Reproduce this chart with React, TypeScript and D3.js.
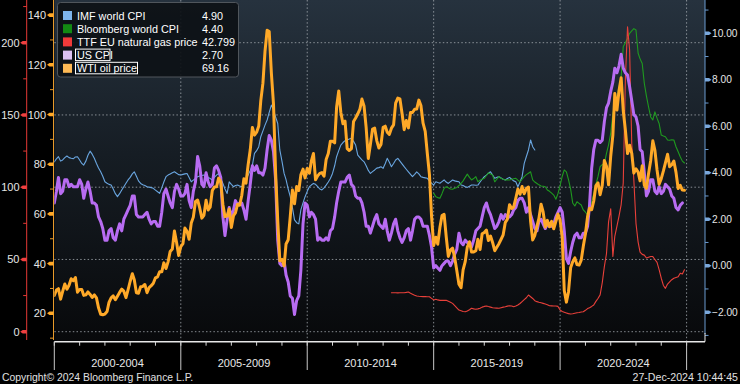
import React from "react";
import * as d3 from "d3";

const W = 740;
const H = 384;

// monthly series; the start month is given next to each array
const wtiStart = "2000-01";
const wtiPrice = [
  27.2, 29.4, 29.9, 25.7, 28.8, 31.8, 29.7, 31.3, 33.9, 33.1, 34.4, 28.5,
  29.6, 29.6, 27.2, 27.4, 28.6, 27.6, 26.4, 27.4, 26.2, 22.2, 19.6, 19.4,
  19.7, 20.7, 24.4, 26.2, 27.0, 25.5, 26.9, 28.4, 29.7, 28.9, 26.3, 29.4,
  32.9, 35.9, 33.5, 28.3, 28.1, 30.7, 30.8, 31.6, 28.3, 30.3, 31.1, 32.1,
  34.3, 34.7, 36.7, 36.7, 40.3, 38.0, 40.7, 44.9, 45.9, 53.1, 48.5, 43.3,
  46.8, 48.0, 54.3, 53.0, 49.8, 56.3, 58.7, 65.0, 65.6, 62.4, 58.3, 59.4,
  65.5, 61.6, 62.7, 69.4, 70.8, 70.9, 74.4, 73.0, 63.8, 58.9, 59.1, 62.0,
  54.5, 59.3, 60.4, 63.9, 63.5, 67.5, 74.1, 72.4, 79.9, 85.8, 94.8, 91.7,
  92.9, 95.4, 105.5, 112.6, 125.4, 133.9, 133.4, 116.7, 104.1, 76.6, 57.3, 41.1,
  41.7, 39.1, 47.9, 49.6, 59.0, 69.6, 64.1, 71.0, 69.4, 75.7, 78.0, 74.5,
  78.3, 76.4, 81.2, 84.3, 73.7, 75.3, 76.3, 76.6, 75.2, 81.9, 84.3, 89.2,
  89.2, 88.6, 102.9, 109.5, 100.9, 96.3, 97.3, 86.3, 85.5, 86.3, 97.2, 98.6,
  100.3, 102.2, 106.2, 103.3, 94.7, 82.3, 87.9, 94.1, 94.5, 89.5, 86.5, 87.9,
  94.8, 95.3, 92.9, 92.0, 94.5, 95.8, 104.6, 106.6, 106.3, 100.5, 93.9, 97.6,
  94.6, 100.8, 100.8, 102.1, 102.2, 105.8, 103.6, 96.5, 93.2, 84.4, 75.8, 59.3,
  47.2, 50.6, 47.8, 54.5, 59.3, 59.8, 50.9, 42.9, 45.5, 46.2, 42.4, 37.2,
  31.7, 30.3, 37.5, 40.8, 46.7, 48.8, 44.7, 44.7, 45.2, 49.8, 45.7, 52.0,
  52.5, 53.5, 49.3, 51.1, 48.5, 45.2, 46.6, 48.0, 49.8, 51.6, 56.6, 57.9,
  63.7, 62.2, 62.7, 66.3, 70.0, 67.9, 71.0, 68.1, 70.2, 70.8, 57.0, 49.5,
  51.4, 55.0, 58.2, 63.9, 60.8, 54.7, 57.4, 54.8, 57.0, 54.0, 57.0, 59.9,
  57.5, 50.5, 29.2, 24.5, 28.6, 38.3, 40.7, 42.3, 39.6, 39.4, 41.4, 47.0,
  52.0, 59.0, 62.3, 61.7, 65.2, 71.4, 72.5, 67.7, 71.6, 81.5, 79.2, 71.7,
  83.2, 91.6, 108.5, 101.8, 109.6, 114.8, 101.6, 93.7, 84.3, 87.6, 84.4, 76.4,
  78.1, 76.8, 73.3, 79.4, 71.6, 70.3, 76.1, 81.4, 89.4, 85.6, 77.7, 71.9,
  74.2, 77.3, 80.5, 84.0, 79.0, 79.8, 81.3, 76.7, 70.2, 71.5, 69.6, 69.5,
];

const usCpiStart = "2000-01";
const usCpi = [
  2.7, 3.2, 3.8, 3.1, 3.2, 3.7, 3.7, 3.4, 3.5, 3.4, 3.4, 3.4,
  3.7, 3.5, 2.9, 3.3, 3.6, 3.2, 2.7, 2.7, 2.6, 2.1, 1.9, 1.6,
  1.1, 1.1, 1.5, 1.6, 1.2, 1.1, 1.5, 1.8, 1.5, 2.0, 2.2, 2.4,
  2.6, 3.0, 3.0, 2.2, 2.1, 2.1, 2.1, 2.2, 2.3, 2.0, 1.8, 1.9,
  1.9, 1.7, 1.7, 2.3, 3.1, 3.3, 3.0, 2.7, 2.5, 3.2, 3.5, 3.3,
  3.0, 3.0, 3.1, 3.5, 2.8, 2.5, 3.2, 3.6, 4.7, 4.3, 3.5, 3.4,
  4.0, 3.6, 3.4, 3.5, 4.2, 4.3, 4.1, 3.8, 2.1, 1.3, 2.0, 2.5,
  2.1, 2.4, 2.8, 2.6, 2.7, 2.7, 2.4, 2.0, 2.8, 3.5, 4.3, 4.1,
  4.3, 4.0, 4.0, 3.9, 4.2, 5.0, 5.6, 5.4, 4.9, 3.7, 1.1, 0.1,
  0.0, 0.2, -0.4, -0.7, -1.3, -1.4, -2.1, -1.5, -1.3, -0.2, 1.8, 2.7,
  2.6, 2.1, 2.3, 2.2, 2.0, 1.1, 1.2, 1.1, 1.1, 1.2, 1.1, 1.5,
  1.6, 2.1, 2.7, 3.2, 3.6, 3.6, 3.6, 3.8, 3.9, 3.5, 3.4, 3.0,
  2.9, 2.9, 2.7, 2.3, 1.7, 1.7, 1.4, 1.7, 2.0, 2.2, 1.8, 1.7,
  1.6, 2.0, 1.5, 1.1, 1.4, 1.8, 2.0, 1.5, 1.2, 1.0, 1.2, 1.5,
  1.6, 1.1, 1.5, 2.0, 2.1, 2.1, 2.0, 1.7, 1.7, 1.7, 1.3, 0.8,
  -0.1, 0.0, -0.1, -0.2, 0.0, 0.1, 0.2, 0.2, 0.0, 0.2, 0.5, 0.7,
  1.4, 1.0, 0.9, 1.1, 1.0, 1.0, 0.8, 1.1, 1.5, 1.6, 1.7, 2.1,
  2.5, 2.7, 2.4, 2.2, 1.9, 1.6, 1.7, 1.9, 2.2, 2.0, 2.2, 2.1,
  2.1, 2.2, 2.4, 2.5, 2.8, 2.9, 2.9, 2.7, 2.3, 2.5, 2.2, 1.9,
  1.6, 1.5, 1.9, 2.0, 1.8, 1.6, 1.8, 1.7, 1.7, 1.8, 2.1, 2.3,
  2.5, 2.3, 1.5, 0.3, 0.1, 0.6, 1.0, 1.3, 1.4, 1.2, 1.2, 1.4,
  1.4, 1.7, 2.6, 4.2, 5.0, 5.4, 5.4, 5.3, 5.4, 6.2, 6.8, 7.0,
  7.5, 7.9, 8.5, 8.3, 8.6, 9.1, 8.5, 8.3, 8.2, 7.7, 7.1, 6.5,
  6.4, 6.0, 5.0, 4.9, 4.0, 3.0, 3.2, 3.7, 3.7, 3.2, 3.1, 3.4,
  3.1, 3.2, 3.5, 3.4, 3.3, 3.0, 2.9, 2.5, 2.4, 2.6, 2.7,
];

const imfStart = "2000-01";
const imfWorldCpi = [
  4.47, 4.6, 4.69, 4.5, 4.55, 4.65, 4.72, 4.65, 4.62, 4.6, 4.68, 4.69,
  4.55, 4.4, 4.33, 4.5, 4.75, 4.93, 4.8, 4.62, 4.4, 4.2, 4.04, 3.85,
  3.61, 3.55, 3.5, 3.47, 3.3, 3.1, 2.97, 3.1, 3.26, 3.4, 3.55, 3.69,
  3.8, 3.95, 4.04, 3.85, 3.65, 3.54, 3.48, 3.45, 3.4, 3.38, 3.36, 3.33,
  3.25, 3.18, 3.11, 3.35, 3.6, 3.83, 3.9, 3.95, 4.0, 4.04, 3.98, 3.92,
  3.9, 3.93, 3.95, 3.97, 3.8, 3.61, 3.68, 3.75, 3.83, 3.86, 3.88, 3.9,
  3.88, 3.8, 3.75, 3.69, 3.8, 3.9, 3.97, 3.75, 3.54, 3.3, 3.11, 3.61,
  3.5, 3.4, 3.45, 3.47, 3.43, 3.4, 3.5, 3.69, 3.9, 4.1, 4.33, 4.83,
  4.95, 5.12, 5.55, 5.8, 6.05, 6.27, 6.6, 6.91, 6.7, 6.4, 6.12, 4.98,
  4.5, 3.97, 3.7, 3.3, 2.97, 2.5, 1.97, 1.85, 1.8, 2.4, 2.7, 2.97,
  3.2, 3.4, 3.47, 3.54, 3.5, 3.4, 3.3, 3.26, 3.35, 3.47, 3.6, 3.75,
  3.97, 4.3, 4.69, 4.95, 5.19, 5.3, 5.38, 5.41, 5.45, 5.48, 5.35, 5.19,
  4.76, 4.65, 4.55, 4.47, 4.3, 4.1, 3.97, 4.05, 4.12, 4.2, 4.22, 4.26,
  4.19, 4.4, 4.62, 4.45, 4.26, 4.4, 4.55, 4.62, 4.5, 4.38, 4.26, 4.15,
  4.04, 3.93, 3.83, 3.93, 4.04, 3.95, 3.83, 3.8, 3.78, 3.76, 3.65, 3.55,
  3.47, 3.61, 3.58, 3.55, 3.62, 3.69, 3.6, 3.54, 3.62, 3.69, 3.65, 3.63,
  3.61, 3.47, 3.45, 3.4, 3.37, 3.42, 3.47, 3.47, 3.46, 3.47, 3.6, 3.72,
  3.83, 3.9, 3.98, 4.04, 3.9, 3.76, 3.8, 3.83, 3.77, 3.72, 3.69, 3.75,
  3.8, 3.72, 3.65, 3.61, 3.4, 3.6, 3.83, 4.4, 4.7, 4.98, 5.41, 5.12,
  4.98,
];

const bbgStart = "2015-01";
const bbgWorldCpi = [
  3.11, 2.97, 2.93, 2.9, 3.1, 3.33, 3.4, 3.35, 3.3, 3.29, 3.33, 3.37,
  3.45, 3.54, 3.65, 3.8, 3.94, 3.8, 3.69, 3.75, 3.83, 3.61, 3.68, 3.72,
  3.76, 3.88, 4.0, 3.95, 3.9, 3.61, 3.72, 3.83, 3.76, 3.72, 3.69, 3.7,
  3.69, 3.72, 3.74, 3.76, 3.68, 3.61, 3.72, 3.83, 3.92, 3.98, 4.04, 3.69,
  3.6, 3.54, 3.48, 3.43, 3.42, 3.4, 3.26, 3.2, 3.12, 3.04, 2.86, 3.1,
  3.45, 3.85, 4.12, 4.04, 3.7, 3.3, 2.7, 2.57, 2.75, 2.68, 2.61, 2.4,
  2.3, 2.18, 2.4, 2.75, 3.11, 3.5, 3.83, 4.26, 4.35, 4.4, 4.83, 5.2,
  5.69, 6.55, 6.9, 7.27, 7.7, 8.13, 9.42, 9.6, 9.78, 10.0, 10.1, 10.2,
  10.14, 9.14, 8.9, 8.7, 7.85, 7.3, 6.84, 6.4, 6.27, 6.62, 6.35, 6.12,
  5.62, 5.58, 5.55, 5.41, 5.4, 5.42, 5.41, 5.12, 4.9, 4.69, 4.5, 4.42,
];

const ttfStart = "2013-05";
const ttfGas = [
  27.0, 27.0, 27.0, 26.9, 27.0, 27.0, 27.0, 27.2,
  27.5, 26.6, 26.0, 25.3, 24.7, 24.5, 24.4, 24.3, 24.3, 24.2, 24.2, 23.1,
  22.0, 22.4, 22.0, 21.7, 21.7, 21.7, 21.7, 21.0, 20.3, 19.6, 18.0, 16.5,
  15.0, 14.5, 14.0, 13.8, 14.3, 15.2, 16.2, 15.8, 15.5, 15.8, 16.2, 17.0,
  17.5, 17.8, 17.4, 17.0, 16.6, 16.4, 16.3, 16.2, 16.6, 17.0, 17.3, 17.7,
  18.0, 17.8, 17.3, 17.8, 18.5, 19.5, 20.8, 22.2, 23.5, 25.4, 24.2, 23.0,
  21.5, 20.8, 20.4, 20.0, 19.6, 19.2, 18.7, 18.0, 17.9, 17.8, 17.8, 17.5,
  15.0, 14.0, 13.5, 13.0, 12.5, 12.2, 12.4, 12.8, 13.1, 13.3, 13.6, 13.8,
  14.8, 16.0, 16.6, 17.5, 18.5, 21.0, 23.0, 25.5, 34.0, 45.0, 54.0, 76.0,
  85.0, 52.0, 66.0, 73.0, 80.0, 88.0, 103.0, 175.0, 211.0, 195.0, 130.0, 105.0,
  75.0, 62.0, 55.0, 53.5, 53.0, 51.0, 51.5, 52.0, 52.0, 50.0, 48.0, 43.0,
  37.0, 32.0, 30.0, 33.0, 34.5, 36.0, 37.0, 37.5, 38.0, 40.5, 40.0, 42.8,
];

const legendNames = ["IMF world CPI", "Bloomberg world CPI", "TTF EU natural gas price", "US CPI", "WTI oil price"];
const legendValues = ["4.90", "4.40", "42.799", "2.70", "69.16"];
const legendSwatches = ["#7db4ec", "#138a13", "#f03a3a", "#dcc2f4", "#ffba55"];
const periodLabels = ["2000-2004", "2005-2009", "2010-2014", "2015-2019", "2020-2024"];
const periodYears = [2000, 2005, 2010, 2015, 2020, 2025];
const oilTicks = [20, 40, 60, 80, 100, 120, 140];
const gasTicks = [0, 50, 100, 150, 200];
const cpiTicks = [-2, 0, 2, 4, 6, 8, 10];

const FONT = "'Liberation Sans', Arial, sans-serif";

type Pt = { date: Date; v: number };
function monthly(start: string, values: number[]): Pt[] {
  const [y, m] = start.split("-").map(Number);
  return values.map((v, i) => ({ date: new Date(y, m - 1 + i, 1), v }));
}

export default function App() {
  const plotL = 54.3;
  const plotR = 705;
  const plotT = 0;
  const plotB = 341.7;
  const oilAxisX = 53.5;
  const gasAxisX = 26.7;

  const x = d3.scaleTime().domain([new Date(2000, 0, 1), new Date(2025, 0, 1)]).range([plotL, 686.6]);
  const yOil = d3.scaleLinear().domain([0, 140]).range([363, 15.1]);
  const yGas = d3.scaleLinear().domain([0, 200]).range([331.7, 42.7]);
  const yCpi = d3.scaleLinear().domain([0, 10]).range([265.7, 33.3]);

  const lineOn = (ys: d3.ScaleLinear<number, number>) =>
    d3.line<Pt>().x((d) => x(d.date)).y((d) => ys(d.v));

  const series = [
    { data: monthly(imfStart, imfWorldCpi), y: yCpi, color: "#6aa6e0", w: 1.1 },
    { data: monthly(bbgStart, bbgWorldCpi), y: yCpi, color: "#1f9a1f", w: 1.1 },
    { data: monthly(ttfStart, ttfGas), y: yGas, color: "#e8403a", w: 1.1 },
    { data: monthly(usCpiStart, usCpi), y: yCpi, color: "#b86cf2", w: 3 },
    { data: monthly(wtiStart, wtiPrice), y: yOil, color: "#ffa928", w: 3 },
  ];

  const oilMinor = d3.range(10, 150, 20);
  const gasMinor = d3.range(25, 250, 50);
  const cpiMinor = d3.range(-3, 12, 2).filter((v) => yCpi(v) < 338 && yCpi(v) > 2);
  const yearTicks = d3.range(2000, 2026).map((yr) => new Date(yr, 0, 1));

  const flagLeft = (a: number, y: number) =>
    `M${a},${y - 1.8}L${a - 4},${y - 1.8}L${a - 6.5},${y}L${a - 4},${y + 1.8}L${a},${y + 1.8}Z`;
  const flagRight = (a: number, y: number) =>
    `M${a},${y - 1.8}L${a + 4},${y - 1.8}L${a + 6.5},${y}L${a + 4},${y + 1.8}L${a},${y + 1.8}Z`;

  return (
    <svg width={W} height={H} style={{ position: "absolute", left: 0, top: 0, background: "#000" }} fontFamily={FONT}>
      <defs>
        <linearGradient id="bg" x1="0" y1="0" x2="0" y2="1">
          <stop offset="0" stopColor="#26323e" />
          <stop offset="0.45" stopColor="#161d24" />
          <stop offset="1" stopColor="#08090b" />
        </linearGradient>
        <clipPath id="plot">
          <rect x={plotL} y={plotT} width={plotR - plotL} height={plotB - plotT} />
        </clipPath>
      </defs>
      <rect x={0} y={0} width={W} height={H} fill="#000" />
      <rect x={plotL} y={plotT} width={plotR - plotL} height={plotB - plotT} fill="url(#bg)" />

      {/* dotted grid */}
      <g stroke="#a4aab0" strokeWidth={1} strokeDasharray="1.5,2.2" opacity={0.8}>
        {gasTicks.map((t) => (
          <line key={"h" + t} x1={plotL} x2={plotR} y1={yGas(t)} y2={yGas(t)} />
        ))}
        {periodYears.slice(1).map((yr) => (
          <line key={"v" + yr} x1={x(new Date(yr, 0, 1))} x2={x(new Date(yr, 0, 1))} y1={plotT} y2={plotB} />
        ))}
      </g>

      {/* series */}
      <g clipPath="url(#plot)" fill="none" strokeLinejoin="round" strokeLinecap="round">
        {series.map((s, i) => (
          <path key={i} d={lineOn(s.y)(s.data) ?? ""} stroke={s.color} strokeWidth={s.w} />
        ))}
      </g>

      {/* legend */}
      <g>
        <rect x={57.5} y={2.5} width={181} height={74.5} rx={3} fill="#0d1116" fillOpacity={0.92} stroke="#50565c" />
        {legendNames.map((n, i) => {
          const cy = 15.5 + i * 13.2;
          return (
            <g key={n}>
              <rect x={63} y={cy - 4.5} width={9} height={9} fill={legendSwatches[i]} />
              {i >= 3 && (
                <rect x={75.5} y={cy - 6} width={i === 3 ? 34.5 : 62} height={11.5} fill="none" stroke="#ffffff" strokeWidth={1} />
              )}
              <text x={77} y={cy} dominantBaseline="central" fontSize={10.8} fill="#ffffff">
                {n}
              </text>
              <text x={202} y={cy} dominantBaseline="central" fontSize={10.8} fill="#ffffff">
                {legendValues[i]}
              </text>
            </g>
          );
        })}
      </g>

      {/* red gas axis */}
      <g>
        <line x1={gasAxisX} x2={gasAxisX} y1={0} y2={340} stroke="#e53935" strokeWidth={1} />
        {gasMinor.filter((v) => yGas(v) > 2).map((v) => (
          <line key={v} x1={gasAxisX - 3.5} x2={gasAxisX} y1={yGas(v)} y2={yGas(v)} stroke="#e53935" />
        ))}
        {gasTicks.map((t) => (
          <g key={t}>
            <path d={flagLeft(gasAxisX, yGas(t))} fill="#f04040" />
            <text x={19.5} y={yGas(t)} dominantBaseline="central" textAnchor="end" fontSize={11} fill="#e6e6e6">
              {t}
            </text>
          </g>
        ))}
      </g>

      {/* orange oil axis */}
      <g>
        <line x1={oilAxisX} x2={oilAxisX} y1={0} y2={340} stroke="#e89a2a" strokeWidth={1} />
        {oilMinor.map((v) => (
          <line key={v} x1={oilAxisX - 3.5} x2={oilAxisX} y1={yOil(v)} y2={yOil(v)} stroke="#e89a2a" />
        ))}
        {oilTicks.map((t) => (
          <g key={t}>
            <path d={flagLeft(oilAxisX, yOil(t))} fill="#ffa928" />
            <text x={46} y={yOil(t)} dominantBaseline="central" textAnchor="end" fontSize={11} fill="#e6e6e6">
              {t}
            </text>
          </g>
        ))}
      </g>

      {/* right cpi axis */}
      <g>
        <line x1={plotR} x2={plotR} y1={0} y2={334} stroke="#6b9bd0" strokeWidth={1} />
        {cpiMinor.map((v) => (
          <line key={v} x1={plotR} x2={plotR + 3.5} y1={yCpi(v)} y2={yCpi(v)} stroke="#6b9bd0" />
        ))}
        {cpiTicks.map((t) => (
          <g key={t}>
            <path d={flagRight(plotR, yCpi(t))} fill="#7aa8dc" />
            <text x={712} y={yCpi(t)} dominantBaseline="central" fontSize={10.2} fill="#e6e6e6">
              {d3.format(".2f")(t)}
            </text>
          </g>
        ))}
      </g>

      {/* bottom time axis */}
      <g>
        <line x1={plotL} x2={plotR} y1={plotB} y2={plotB} stroke="#e8e8e8" strokeWidth={1.5} />
        <line x1={plotR} x2={plotR} y1={333} y2={plotB} stroke="#e8e8e8" strokeWidth={1} />
        {yearTicks.map((d, i) => (
          <line key={i} x1={x(d)} x2={x(d)} y1={plotB} y2={plotB + 4} stroke="#d8d8d8" />
        ))}
        {periodYears.map((yr) => (
          <line key={yr} x1={x(new Date(yr, 0, 1))} x2={x(new Date(yr, 0, 1))} y1={plotB} y2={370} stroke="#c8c8c8" />
        ))}
        {periodLabels.map((lab, i) => {
          const cx = (x(new Date(periodYears[i], 0, 1)) + x(new Date(periodYears[i + 1], 0, 1))) / 2;
          return (
            <text key={lab} x={cx} y={363} textAnchor="middle" dominantBaseline="central" fontSize={11} fill="#e8e8e8">
              {lab}
            </text>
          );
        })}
      </g>

      {/* footer */}
      <text x={2} y={377} dominantBaseline="central" fontSize={10.4} fill="#e0e0e0">
        Copyright© 2024 Bloomberg Finance L.P.
      </text>
      <text x={738} y={377} dominantBaseline="central" textAnchor="end" fontSize={10.6} fill="#e0e0e0">
        27-Dec-2024 10:44:45
      </text>
    </svg>
  );
}
